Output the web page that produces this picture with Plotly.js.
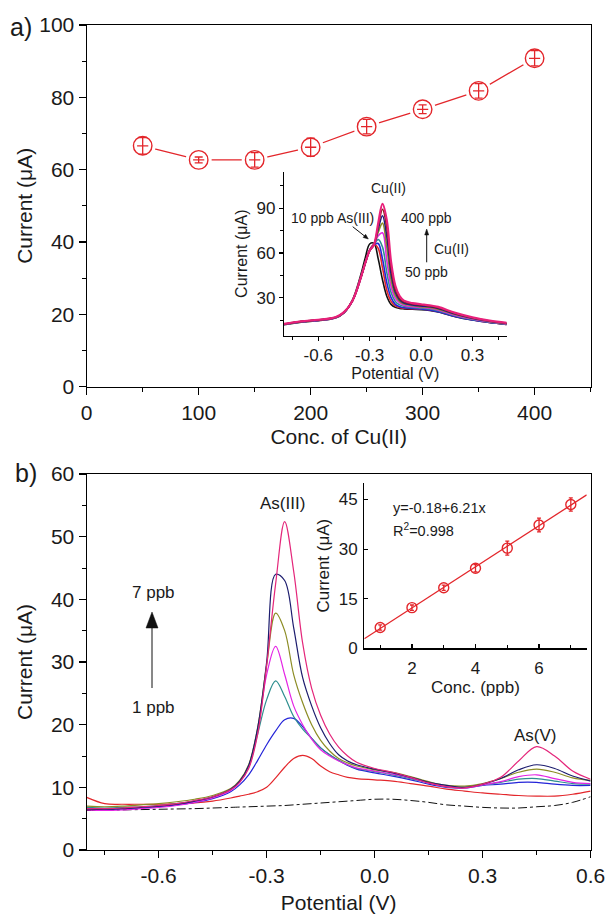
<!DOCTYPE html>
<html>
<head>
<meta charset="utf-8">
<script src="https://cdn.plot.ly/plotly-3.0.1.min.js"></script>
<style>html,body{margin:0;padding:0;background:#fff;}#chart{width:614px;height:917px;}</style>
</head>
<body>
<div id="chart"></div>
<script>
// ---------- Panel a: As(III) current vs Cu(II) concentration ----------
const cuConc = [50, 100, 150, 200, 250, 300, 350, 400];
const asCurrentA = [66.6, 62.7, 62.7, 66.2, 71.9, 76.7, 81.8, 90.8];
const asErrA = [2.3, 0.8, 2.0, 2.5, 2.0, 1.2, 2.0, 2.1];

// ---------- Inset a: SWASV curves with increasing Cu(II) ----------
const potentialA = [-0.80,-0.70,-0.60,-0.50,-0.45,-0.40,-0.35,-0.325,-0.30,-0.275,-0.25,-0.225,-0.20,-0.175,-0.15,-0.125,-0.10,-0.05,0.0,0.05,0.10,0.20,0.30,0.40,0.50];
const curveAsOnly = [11.8,13.6,14.6,16.3,19.8,28.5,46.0,57.0,66.0,66.5,56.0,42.0,31.0,25.5,23.5,22.8,22.5,22.2,22.0,21.5,20.5,17.3,15.0,13.3,12.0];
const curveCu50  = [12.0,13.8,14.8,16.5,20.0,28.0,44.0,53.5,62.0,65.8,63.0,50.0,35.0,27.5,24.5,23.5,23.0,22.6,22.3,21.8,20.7,17.5,15.2,13.4,12.1];
const curveCu100 = [12.0,13.8,14.8,16.5,20.0,28.0,44.0,53.5,61.8,65.5,66.3,56.0,40.0,30.0,25.5,24.0,23.3,22.8,22.4,21.8,20.6,17.4,15.1,13.4,12.1];
const curveCu150 = [12.1,13.9,14.9,16.6,20.0,28.0,44.0,53.5,61.6,65.5,69.0,64.0,47.0,33.5,27.5,25.2,24.2,23.4,23.0,22.4,21.3,17.9,15.4,13.6,12.3];
const curveCu200 = [12.1,13.9,14.9,16.6,20.0,28.0,44.0,53.5,61.6,65.5,71.5,73.5,55.0,37.5,29.5,26.5,25.0,24.0,23.5,22.9,21.8,18.3,15.7,13.8,12.4];
const curveCu250 = [12.2,14.0,15.0,16.7,20.1,28.0,44.0,53.5,61.6,65.5,74.0,80.0,64.0,42.0,31.5,27.5,25.8,24.6,24.0,23.4,22.3,18.7,16.0,14.0,12.6];
const curveCu300 = [12.2,14.0,15.0,16.7,20.1,28.0,44.0,53.5,61.6,65.5,76.0,85.0,71.0,46.0,33.5,28.5,26.5,25.2,24.5,23.9,22.8,19.0,16.2,14.2,12.7];
const curveCu350 = [12.3,14.1,15.1,16.8,20.2,28.0,44.0,53.5,61.6,65.5,78.0,89.3,77.0,50.0,35.5,29.5,27.2,25.8,25.1,24.4,23.3,19.4,16.5,14.4,12.9];
const curveCu400 = [12.4,14.2,15.2,16.9,20.3,28.0,44.0,53.5,61.6,65.5,80.0,93.0,82.0,54.0,38.0,31.0,28.0,26.3,25.6,24.9,23.8,19.8,16.8,14.6,13.1];
const insetATickVals = [-0.6, -0.3, 0.0, 0.3];
const insetATickText = ['-0.6', '-0.3', '0.0', '0.3'];

// ---------- Panel b: SWASV curves 1-7 ppb As(III) ----------
const potentialB = [-0.80,-0.75,-0.70,-0.65,-0.60,-0.55,-0.50,-0.45,-0.40,-0.375,-0.35,-0.325,-0.30,-0.275,-0.25,-0.225,-0.20,-0.175,-0.15,-0.125,-0.10,-0.075,-0.05,0.0,0.05,0.10,0.15,0.20,0.25,0.30,0.35,0.40,0.45,0.50,0.55,0.60];
const blankB = [6.3,6.35,6.4,6.45,6.5,6.55,6.6,6.7,6.8,6.85,6.9,6.95,7.0,7.05,7.1,7.2,7.3,7.4,7.5,7.6,7.7,7.8,7.9,8.1,8.1,7.9,7.6,7.2,7.0,6.8,6.7,6.7,6.9,7.1,7.6,8.5];
const ppb1 = [8.4,7.4,7.3,7.3,7.3,7.4,7.5,7.8,8.3,8.6,8.9,9.3,10.0,11.5,13.2,14.6,15.1,14.6,13.4,12.5,12.0,11.6,11.4,11.2,11.0,10.6,10.2,9.7,9.4,9.1,8.9,8.7,8.6,8.6,8.9,9.4];
const ppb2 = [6.6,6.5,6.6,6.7,6.9,7.2,7.6,8.2,9.3,10.4,12.0,14.3,16.8,19.0,20.8,21.0,19.7,17.8,16.3,15.2,14.3,13.5,12.9,12.3,11.8,11.2,10.5,10.0,9.9,10.3,10.5,10.8,10.8,10.5,10.3,10.3];
const ppb3 = [6.8,6.7,6.8,6.9,7.1,7.4,7.8,8.4,9.6,10.9,13.2,18.5,24.0,27.0,24.5,21.3,19.3,17.8,16.3,15.2,14.3,13.6,13.0,12.5,12.0,11.4,10.7,10.1,10.0,10.4,10.8,11.3,11.4,11.0,10.6,10.5];
const ppb4 = [6.4,6.3,6.4,6.6,6.8,7.1,7.6,8.3,9.5,10.8,13.3,19.0,28.0,32.5,28.0,23.0,20.0,17.7,16.0,15.0,14.2,13.6,13.1,12.6,12.1,11.5,10.7,10.1,9.9,10.4,10.9,11.7,12.0,11.4,10.8,10.6];
const ppb5 = [7.0,6.9,7.0,7.2,7.4,7.7,8.1,8.7,9.8,11.1,13.6,19.5,29.5,37.8,35.0,28.0,23.5,20.0,17.5,15.8,14.6,13.9,13.4,12.8,12.4,11.7,10.9,10.3,10.2,10.6,11.4,12.4,12.9,12.4,11.5,11.1];
const ppb6 = [6.5,6.5,6.6,6.8,7.0,7.3,7.8,8.5,9.7,11.0,13.5,19.5,30.0,44.0,43.0,35.5,27.5,23.0,19.5,17.0,15.2,14.2,13.6,12.9,12.3,11.6,10.8,10.3,10.0,10.5,11.4,12.8,13.6,13.0,11.8,11.0];
const ppb7 = [6.6,6.6,6.7,6.9,7.1,7.4,7.9,8.5,9.6,10.8,13.0,18.5,29.5,42.5,52.4,44.5,33.0,25.8,21.5,18.5,16.4,15.0,14.0,13.0,12.4,11.6,10.7,10.1,9.9,10.5,11.6,14.2,16.5,15.0,12.6,11.3];
const panelBTickVals = [-0.6, -0.3, 0.0, 0.3, 0.6];
const panelBTickText = ['-0.6', '-0.3', '0.0', '0.3', '0.6'];

// ---------- Inset b: calibration ----------
const asConc = [1, 2, 3, 4, 5, 6, 7];
const asPeak = [6.3, 12.3, 18.3, 24.2, 30.3, 37.3, 43.5];
const asPeakErr = [0.8, 0.8, 0.8, 1.1, 2.1, 2.1, 2.0];
const fitX = [0.5, 7.5];
const fitY = [2.9, 46.4];

// ---------- styling ----------
const F = 'Arial, "Liberation Sans", sans-serif';
const TXT = '#1a1a1a';
const RED = '#e3262b';
const W = 614, H = 917;
const px = x => x / W;
const py = y => 1 - y / H;

const colorsA = ['#111111', '#e3262b', '#2424d8', '#2e8f8f', '#e424e4', '#8c8c24', '#1c1c82', '#8b1a1a', '#e8207a'];
const curvesA = [curveAsOnly, curveCu50, curveCu100, curveCu150, curveCu200, curveCu250, curveCu300, curveCu350, curveCu400];
const colorsB = ['#e3262b', '#2424d8', '#2e8f8f', '#e424e4', '#8c8c24', '#1c1c6e', '#e4267a'];
const curvesB = [ppb1, ppb2, ppb3, ppb4, ppb5, ppb6, ppb7];

const traces = [];
// panel a
traces.push({x: cuConc, y: asCurrentA, mode: 'lines', line: {color: RED, width: 1.3}, xaxis: 'x', yaxis: 'y', hoverinfo: 'skip'});
traces.push({x: cuConc, y: asCurrentA, mode: 'markers', marker: {symbol: 'circle', size: 26, color: '#ffffff'}, xaxis: 'x', yaxis: 'y', hoverinfo: 'skip'});
traces.push({x: cuConc, y: asCurrentA, mode: 'markers', marker: {symbol: 'circle-open', size: 18.5, color: RED, line: {width: 1.4, color: RED}},
  error_y: {type: 'data', array: asErrA, visible: true, color: RED, thickness: 1.3, width: 4}, xaxis: 'x', yaxis: 'y'});
traces.push({x: cuConc, y: asCurrentA, mode: 'markers', marker: {symbol: 'line-ew', size: 8, color: RED, line: {width: 1.3, color: RED}}, xaxis: 'x', yaxis: 'y', hoverinfo: 'skip'});
// inset a
curvesA.forEach((c, i) => {
  traces.push({x: potentialA, y: c, mode: 'lines', line: {color: colorsA[i], width: i === 8 ? 2.2 : 1.6, shape: 'spline', smoothing: 1}, xaxis: 'x2', yaxis: 'y2'});
});
// panel b
traces.push({x: potentialB, y: blankB, mode: 'lines', line: {color: '#111', width: 1, dash: 'dashdot', shape: 'spline'}, xaxis: 'x3', yaxis: 'y3'});
curvesB.forEach((c, i) => {
  traces.push({x: potentialB, y: c, mode: 'lines', line: {color: colorsB[i], width: 1.2, shape: 'spline', smoothing: 1}, xaxis: 'x3', yaxis: 'y3'});
});
// inset b
traces.push({x: fitX, y: fitY, mode: 'lines', line: {color: RED, width: 1.3}, xaxis: 'x4', yaxis: 'y4'});
traces.push({x: asConc, y: asPeak, mode: 'markers', marker: {symbol: 'circle-open', size: 10, color: RED, line: {width: 1.4, color: RED}},
  error_y: {type: 'data', array: asPeakErr, visible: true, color: RED, thickness: 1.3, width: 2}, xaxis: 'x4', yaxis: 'y4'});

const axBase = {showgrid: false, zeroline: false, showline: true, linecolor: '#000', linewidth: 1.2, tickcolor: '#000', tickwidth: 1.2};

function label(text, x, y, size, anchor) {
  return {text: text, x: px(x), y: py(y), xref: 'paper', yref: 'paper', xanchor: anchor || 'center', yanchor: 'middle',
    showarrow: false, font: {size: size, family: F, color: TXT}};
}
// arrow as shapes: shaft line + filled triangular head (pixel geometry -> paper coords)
function arrowShapes(tx, ty, hx, hy, len, half) {
  const dx = hx - tx, dy = hy - ty, L = Math.hypot(dx, dy);
  const ux = dx / L, uy = dy / L, nx = -uy, ny = ux;
  const bx = hx - len * ux, by = hy - len * uy;
  const p = (x, y) => px(x).toFixed(5) + ',' + py(y).toFixed(5);
  return [
    {type: 'line', xref: 'paper', yref: 'paper', x0: px(tx), y0: py(ty), x1: px(bx + ux), y1: py(by + uy), line: {color: '#111', width: 1}},
    {type: 'path', xref: 'paper', yref: 'paper', path: 'M' + p(hx, hy) + 'L' + p(bx + half * nx, by + half * ny) + 'L' + p(bx - half * nx, by - half * ny) + 'Z',
      fillcolor: '#111', line: {color: '#111', width: 0.5}}
  ];
}

const shapes = [].concat(
  arrowShapes(352.7, 226.7, 368.3, 239, 5, 2),
  arrowShapes(426.7, 262.3, 426.7, 229, 6, 2),
  arrowShapes(152, 688, 152, 612, 16, 6)
);

const layout = {
  width: W, height: H,
  margin: {l: 0, r: 0, t: 0, b: 0},
  paper_bgcolor: '#ffffff', plot_bgcolor: 'rgba(0,0,0,0)',
  showlegend: false,
  font: {family: F, color: TXT},
  xaxis: Object.assign({}, axBase, {domain: [px(86.7), px(590.6)], anchor: 'y', range: [0, 450], mirror: true,
    ticks: 'outside', ticklen: 7, tick0: 0, dtick: 100, minor: {dtick: 50, ticklen: 4, ticks: 'outside', tickcolor: '#000', tickwidth: 1},
    tickfont: {size: 21, family: F, color: TXT}, title: {text: 'Conc. of Cu(II)', font: {size: 21, family: F, color: TXT}, standoff: 6}}),
  yaxis: Object.assign({}, axBase, {domain: [py(386.7), py(25)], anchor: 'x', range: [0, 100], mirror: true,
    ticks: 'outside', ticklen: 7, tick0: 0, dtick: 20, minor: {dtick: 10, ticklen: 4, ticks: 'outside', tickcolor: '#000', tickwidth: 1},
    tickfont: {size: 21, family: F, color: TXT}, title: {text: 'Current (μA)', font: {size: 21, family: F, color: TXT}, standoff: 0}}),
  xaxis2: Object.assign({}, axBase, {domain: [px(284), px(506.7)], anchor: 'y2', range: [-0.8, 0.5],
    ticks: 'outside', ticklen: 4, tickvals: insetATickVals, ticktext: insetATickText,
    minor: {tickvals: [-0.75, -0.45, -0.15, 0.15, 0.45], ticklen: 3, ticks: 'outside', tickcolor: '#000', tickwidth: 1},
    tickfont: {size: 17, family: F, color: TXT}, title: {text: 'Potential (V)', font: {size: 16, family: F, color: TXT}, standoff: 2}}),
  yaxis2: Object.assign({}, axBase, {domain: [py(335.7), py(171.7)], anchor: 'x2', range: [4.5, 114.5],
    ticks: 'outside', ticklen: 4, tick0: 0, dtick: 30, minor: {dtick: 15, ticklen: 3, ticks: 'outside', tickcolor: '#000', tickwidth: 1},
    tickfont: {size: 17, family: F, color: TXT}, title: {text: 'Current (μA)', font: {size: 16, family: F, color: TXT}, standoff: 4}}),
  xaxis3: Object.assign({}, axBase, {domain: [px(86.7), px(590.6)], anchor: 'y3', range: [-0.8, 0.6], mirror: true,
    ticks: 'outside', ticklen: 7, tickvals: panelBTickVals, ticktext: panelBTickText,
    minor: {tickvals: [-0.75, -0.45, -0.15, 0.15, 0.45], ticklen: 4, ticks: 'outside', tickcolor: '#000', tickwidth: 1},
    tickfont: {size: 21, family: F, color: TXT}, title: {text: 'Potential (V)', font: {size: 21, family: F, color: TXT}, standoff: 8}}),
  yaxis3: Object.assign({}, axBase, {domain: [py(850), py(474)], anchor: 'x3', range: [0, 60], mirror: true,
    ticks: 'outside', ticklen: 7, tick0: 0, dtick: 10, minor: {dtick: 5, ticklen: 4, ticks: 'outside', tickcolor: '#000', tickwidth: 1},
    tickfont: {size: 21, family: F, color: TXT}, title: {text: 'Current (μA)', font: {size: 21, family: F, color: TXT}, standoff: 12}}),
  xaxis4: Object.assign({}, axBase, {domain: [px(364.3), px(586.7)], anchor: 'y4', range: [0.5, 7.5],
    ticks: 'inside', ticklen: 4, tick0: 0, dtick: 2, ticklabelstandoff: 4, minor: {dtick: 1, ticklen: 3, ticks: 'inside', tickcolor: '#000', tickwidth: 1},
    tickfont: {size: 17, family: F, color: TXT}, title: {text: 'Conc. (ppb)', font: {size: 17, family: F, color: TXT}, standoff: 2}}),
  yaxis4: Object.assign({}, axBase, {domain: [py(648.3), py(483)], anchor: 'x4', range: [0, 50],
    ticks: 'inside', ticklen: 4, tick0: 0, dtick: 15, ticklabelstandoff: 2,
    tickfont: {size: 17, family: F, color: TXT}, title: {text: 'Current (μA)', font: {size: 17, family: F, color: TXT}, standoff: 4}}),
  shapes: shapes,
  annotations: [
    label('a)', 8, 27, 25, 'left'),
    label('b)', 13, 473, 25, 'left'),
    // inset a labels
    label('Cu(II)', 389, 188, 14),
    label('10 ppb As(III)', 332.5, 217.5, 14),
    label('400 ppb', 426.7, 217.7, 14),
    label('Cu(II)', 451, 248.5, 14),
    label('50 ppb', 426.7, 272.3, 14),
    // panel b labels
    label('As(III)', 282, 503, 17),
    label('As(V)', 535, 735, 17),
    label('7 ppb', 153.5, 592, 17),
    label('1 ppb', 153.5, 707, 17),
    // inset b equation
    label('y=-0.18+6.21x', 391, 508, 14.5, 'left'),
    label('R<sup>2</sup>=0.998', 391, 530, 14.5, 'left')
  ]
};

Plotly.newPlot('chart', traces, layout, {displayModeBar: false, staticPlot: true});
</script>
</body>
</html>
